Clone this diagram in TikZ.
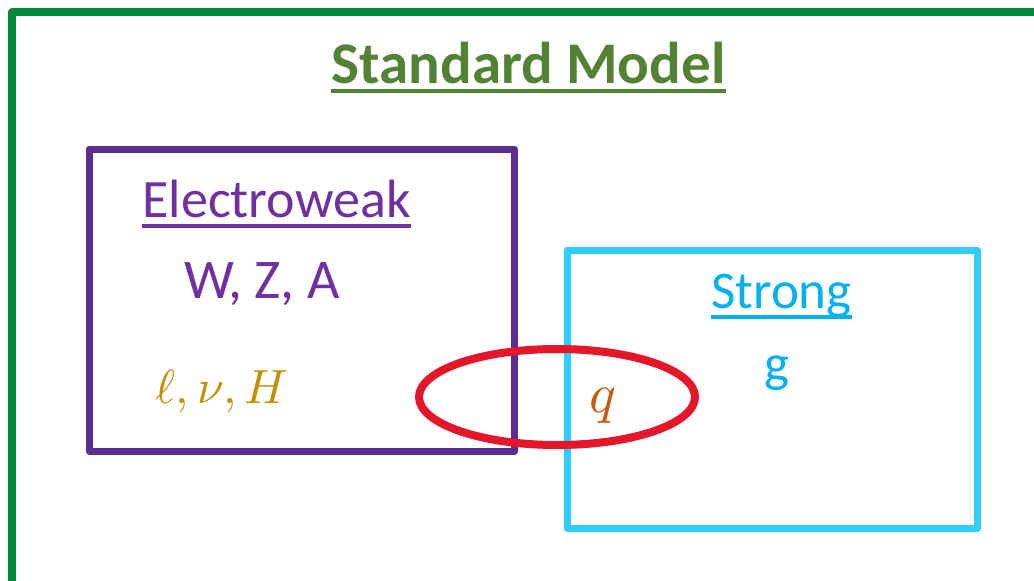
\documentclass[tikz,border=0pt]{standalone}
\usepackage{fontspec}
\setmainfont{Carlito}
\usepackage{unicode-math}
\setmathfont{Latin Modern Math}
\definecolor{framegreen}{RGB}{0,137,58}
\definecolor{titlegreen}{RGB}{84,130,53}
\definecolor{ewpurple}{RGB}{112,48,160}
\definecolor{ewbox}{RGB}{92,45,145}
\definecolor{strongblue}{RGB}{0,176,240}
\definecolor{strongbox}{RGB}{51,204,255}
\definecolor{leptongold}{RGB}{191,144,0}
\definecolor{quarkorange}{RGB}{197,90,17}
\definecolor{ringred}{RGB}{228,22,42}

\begin{document}
\begin{tikzpicture}[x=1pt,y=-1pt,line join=round,
  txt/.style={inner sep=0pt,anchor=base},
  uline/.style={line width=#1,line cap=butt}]
\clip (0,0) rectangle (1034,581);
% outer frame
\draw[framegreen,line width=8pt] (12,12) rectangle (1050,585);
% title
\node[txt,titlegreen,font=\fontsize{59}{64}\bfseries\selectfont] (sm) at (528.5,83) {Standard Model};
\draw[titlegreen,uline=4pt] ([yshift=-8pt]sm.base west) -- ([yshift=-8pt]sm.base east);
% electroweak sector
\draw[ewbox,line width=7pt] (89,149) rectangle (514.5,451);
\node[txt,ewpurple,font=\fontsize{54}{60}\selectfont] (ew) at (276.5,217) {Electroweak};
\draw[ewpurple,uline=3.5pt] ([yshift=-9pt]ew.base west) -- ([yshift=-9pt]ew.base east);
\node[txt,ewpurple,font=\fontsize{56}{60}\selectfont] (bos) at (262,298) {W, Z, A};
\node[txt,leptongold,font=\fontsize{48}{60}\selectfont] (lep) at (222,403) {$\ell, \nu, H$};
% strong sector
\draw[strongbox,line width=7pt] (567,250) rectangle (977,528);
\node[txt,strongblue,font=\fontsize{53}{60}\selectfont] (st) at (781.5,308) {Strong};
\draw[strongblue,uline=3.5pt] ([yshift=-9pt]st.base west) -- ([yshift=-9pt]st.base east);
\node[txt,strongblue,font=\fontsize{53}{60}\selectfont] (glu) at (777,381) {g};
% quarks
\node[txt,quarkorange,font=\fontsize{56}{60}\selectfont] (qk) at (603,412) {$q$};
\draw[ringred,line width=8pt] (557,397) ellipse [x radius=138,y radius=48];
\end{tikzpicture}
\end{document}
